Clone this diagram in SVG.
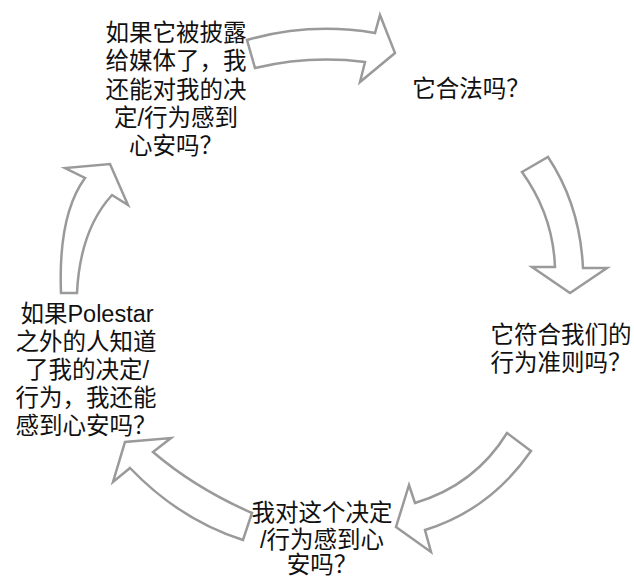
<svg xmlns="http://www.w3.org/2000/svg" width="634" height="577" viewBox="0 0 634 577">
<style>
.arrow{fill:#ffffff;stroke:#9a9a9a;stroke-width:2.5;stroke-linejoin:miter}
.t{font-family:"Noto Sans CJK SC",sans-serif;font-size:23.5px;fill:#111;text-anchor:middle}
.l{font-family:"Liberation Sans",sans-serif}
</style>
<rect width="634" height="577" fill="#ffffff"/>
<g id="connectors">
<path class="arrow" d="M247,40 Q310,22 375,33 L380,15 L395,53 L360,82 L365,62 Q310,55 255,68 Z"/>
<path class="arrow" d="M522,172 L548,157 Q580,205 583,268 L607,268 L570,293 L532,267 L555,267 Q553,215 522,172 Z"/>
<path class="arrow" d="M507,433 L531,451 Q490,510 425,530 L431,552 L396,527 L409,485 L415,503 Q475,485 507,433 Z"/>
<path class="arrow" d="M252,513 Q195,488 153,452 L171,438 L125,442 L113,482 L130,468 Q180,520 243,540 Z"/>
<path class="arrow" d="M61,293 Q58,215 85,178 L65,168 L110,164 L128,205 L112,195 Q80,230 77,293 Z"/>
</g>
<g id="node-media">
<text class="t" x="176" y="41">如果它被披露</text>
<text class="t" x="176" y="69.3">给媒体了，我</text>
<text class="t" x="176" y="97.6">还能对我的决</text>
<text class="t" x="176" y="125.9">定<tspan class="l">/</tspan>行为感到</text>
<text class="t" x="176" y="154.2">心安吗？</text>
</g>
<g id="node-legal">
<text class="t" x="471" y="97">它合法吗？</text>
</g>
<g id="node-code">
<text class="t" x="561" y="343">它符合我们的</text>
<text class="t" x="561" y="371">行为准则吗？</text>
</g>
<g id="node-self">
<text class="t" x="322" y="521">我对这个决定</text>
<text class="t" x="322" y="548"><tspan class="l">/</tspan>行为感到心</text>
<text class="t" x="322" y="573">安吗？</text>
</g>
<g id="node-outside">
<text class="t" x="87" y="322">如果<tspan class="l">Polestar</tspan></text>
<text class="t" x="86" y="350">之外的人知道</text>
<text class="t" x="87" y="378">了我的决定<tspan class="l">/</tspan></text>
<text class="t" x="86" y="406">行为，我还能</text>
<text class="t" x="86" y="434">感到心安吗？</text>
</g>
</svg>
